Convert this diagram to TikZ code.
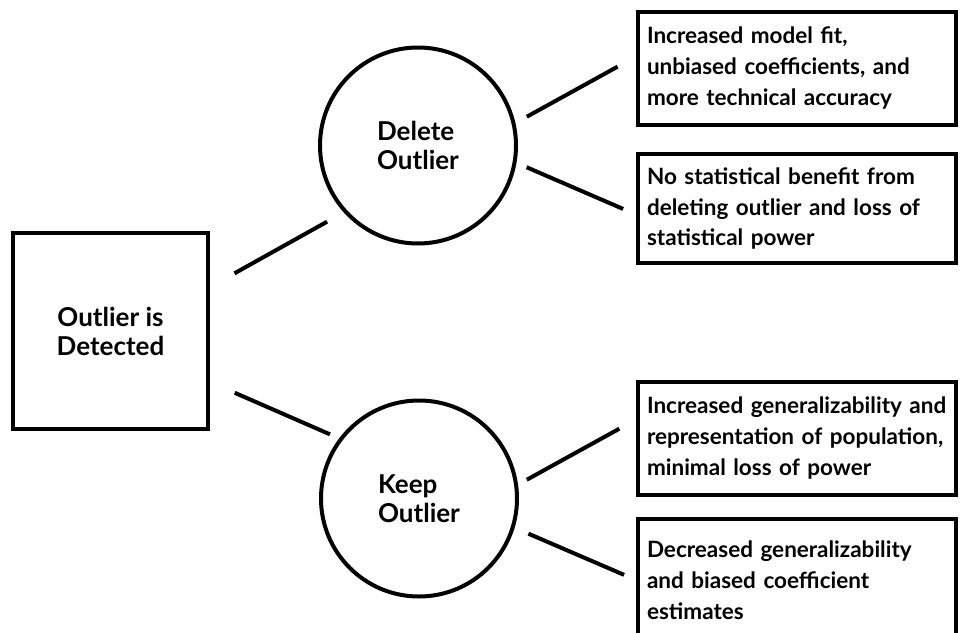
\documentclass[tikz,border=0pt]{standalone}
\usepackage{fontspec}
\setmainfont{Lato}
\usepackage{tikz}

\begin{document}
\begin{tikzpicture}
    [x=1pt, y=-1pt,
    line width=4pt,
    start/.style = {draw, rectangle,
                    minimum width=195pt, minimum height=196pt,
                    align=center, font=\fontsize{26}{29}\selectfont\bfseries},
    choice/.style = {draw, circle, inner sep=0pt,
                    minimum size=196pt,
                    align=left, font=\fontsize{26}{29}\selectfont\bfseries},
    result/.style = {draw, rectangle,
                    minimum height=113pt, text width=300pt, inner xsep=9pt,
                    align=left, font=\fontsize{22.5}{31}\selectfont\bfseries}]
    \useasboundingbox (0,0) rectangle (961,632);
    % Punto de partida
    \node[start] (det) at (110.5,331) {Outlier is\\Detected};
    % Decisiones
    \node[choice] (del) at (418,145.5) {Delete\\Outlier};
    \node[choice] (keep) at (419,498.5) {Keep\\Outlier};
    % Consecuencias
    \node[result] (fit) at (797,68.5) {Increased model fit,\\unbiased coefficients, and\\more technical accuracy};
    \node[result, minimum height=109pt] (nobenefit) at (797,208.5) {No statistical benefit from\\deleting outlier and loss of\\statistical power};
    \node[result] (general) at (797,438.5) {Increased generalizability and\\representation of population,\\minimal loss of power};
    \node[result, minimum height=122pt] (biased) at (797,580) {Decreased generalizability\\and biased coefficient\\estimates};
    % Lineas
    \draw[shorten <=28pt, shorten >=19pt] ([yshift=44pt]det.east) -- (del.222);
    \draw[shorten <=27pt, shorten >=10pt] ([yshift=-51pt]det.east) -- (keep.143);
    \draw[shorten <=13pt, shorten >=21pt] (del.13) -- ([yshift=12pt]fit.west);
    \draw[shorten <=11pt, shorten >=14pt] (del.-10) -- ([yshift=-6pt]nobenefit.west);
    \draw[shorten <=10pt, shorten >=19pt] (keep.8) -- ([yshift=19pt]general.west);
    \draw[shorten <=15pt, shorten >=13pt] (keep.-17) -- (biased.west);
\end{tikzpicture}
\end{document}
